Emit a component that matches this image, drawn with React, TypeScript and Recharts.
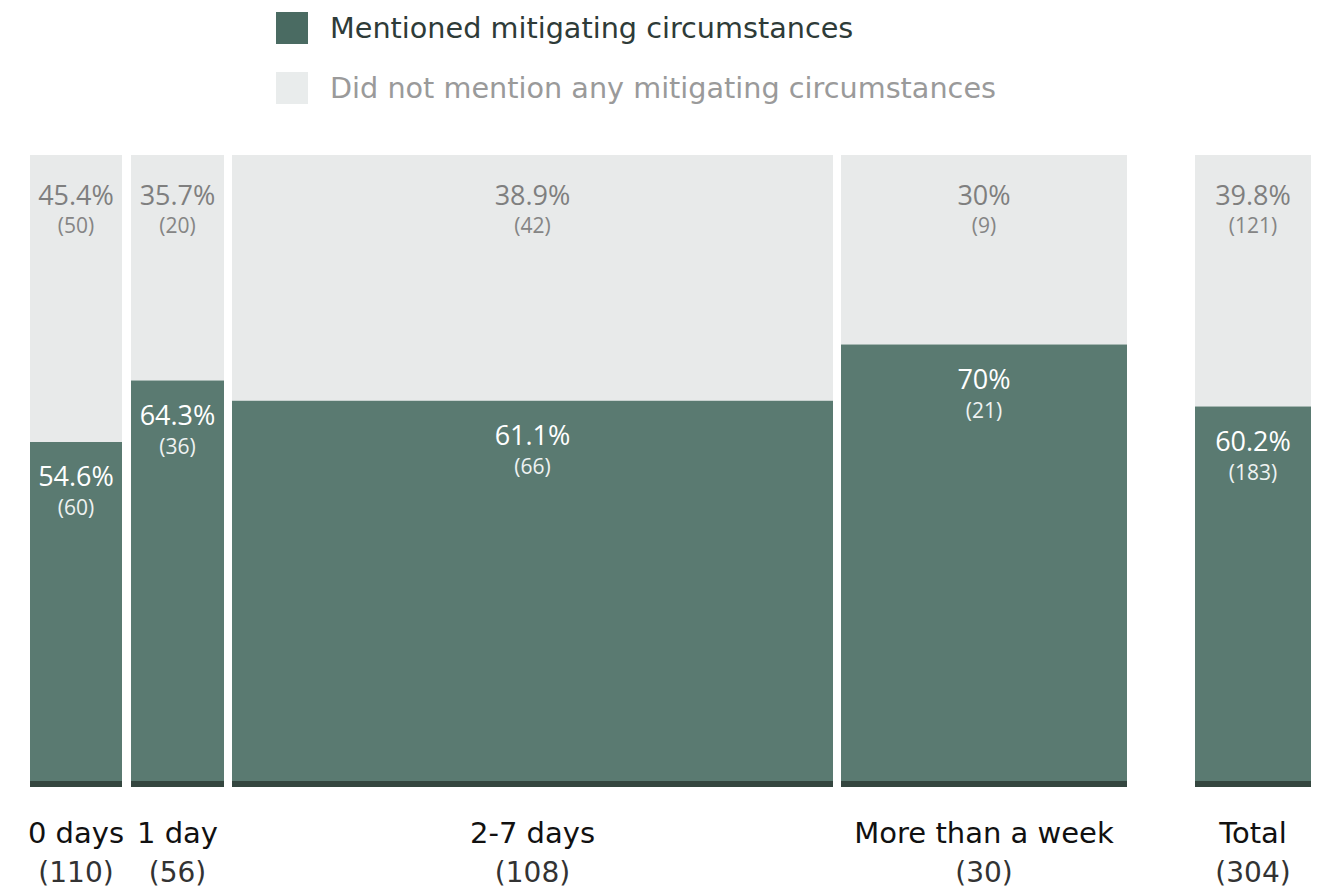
import React from "react";
import { ComposedChart, XAxis, YAxis, ReferenceArea, Line } from "recharts";

const categories = ["0 days", "1 day", "2-7 days", "More than a week", "Total"];
const counts = [110, 56, 108, 30, 304];
const mentionedPct = [54.6, 64.3, 61.1, 70, 60.2];
const mentionedCount = [60, 36, 66, 21, 183];
const notMentionedPct = [45.4, 35.7, 38.9, 30, 39.8];
const notMentionedCount = [50, 20, 42, 9, 121];

// mekko column layout (x-axis units)
const columnWidths = [92, 93, 601, 286, 116];
const columnGaps = [0, 9, 8, 8, 68];

const DARK = "#5a7a71";
const DARK_BASE = "#34463f";
const LIGHT = "#e8eaea";
const LEGEND_DARK = "#4a6b62";

const starts: number[] = [];
{
  let acc = 0;
  columnWidths.forEach((w, i) => {
    acc += columnGaps[i];
    starts.push(acc);
    acc += w;
  });
}
const ends = starts.map((s, i) => s + columnWidths[i]);
const centers = starts.map((s, i) => s + columnWidths[i] / 2);
const xMax = ends[ends.length - 1];

const rows = categories.map((c, i) => ({
  category: c,
  center: centers[i],
  mentioned: mentionedPct[i],
}));

const LABEL_FONT = "'Open Sans', 'Noto Sans', sans-serif";
const AXIS_FONT = "'DejaVu Sans', sans-serif";

const makeLabel = (pct: number, cnt: number, dark: boolean) => (props: any) => {
  const vb = props.viewBox || {};
  const cx = vb.x + vb.width / 2;
  const top = vb.y;
  const o1 = dark ? 34 : 39;
  const o2 = dark ? 65 : 70;
  return (
    <g>
      <text
        x={cx}
        y={top + o1}
        textAnchor="middle"
        dominantBaseline="central"
        fontFamily={LABEL_FONT}
        fontSize={27}
        fill={dark ? "#ffffff" : "#7f7f7f"}
      >
        {pct}%
      </text>
      <text
        x={cx}
        y={top + o2}
        textAnchor="middle"
        dominantBaseline="central"
        fontFamily={LABEL_FONT}
        fontSize={21}
        fill={dark ? "#eef2f1" : "#858585"}
      >
        ({cnt})
      </text>
    </g>
  );
};

const AxisTick = (props: any) => {
  const { x, y, payload } = props;
  const i = centers.findIndex((c) => Math.abs(c - payload.value) < 0.01);
  if (i < 0) return null;
  return (
    <g>
      <text
        x={x}
        y={y + 38}
        textAnchor="middle"
        dominantBaseline="central"
        fontFamily={AXIS_FONT}
        fontSize={29}
        fill="#111111"
      >
        {categories[i]}
      </text>
      <text
        x={x}
        y={y + 77}
        textAnchor="middle"
        dominantBaseline="central"
        fontFamily={AXIS_FONT}
        fontSize={28}
        fill="#333333"
      >
        ({counts[i]})
      </text>
    </g>
  );
};

export default function App() {
  return (
    <div
      style={{
        position: "absolute",
        left: 0,
        top: 0,
        width: 1332,
        height: 891,
        background: "#ffffff",
      }}
    >
      <div
        style={{
          position: "absolute",
          left: 276,
          top: 12,
          fontFamily: AXIS_FONT,
          fontSize: 28.7,
        }}
      >
        <div style={{ display: "flex", alignItems: "center", height: 32 }}>
          <div style={{ width: 32, height: 32, background: LEGEND_DARK }} />
          <span style={{ marginLeft: 22, color: "#2e3b38", whiteSpace: "nowrap" }}>
            Mentioned mitigating circumstances
          </span>
        </div>
        <div style={{ display: "flex", alignItems: "center", height: 32, marginTop: 28 }}>
          <div style={{ width: 32, height: 32, background: "#e9ecec" }} />
          <span style={{ marginLeft: 22, color: "#9a9a9a", whiteSpace: "nowrap" }}>
            Did not mention any mitigating circumstances
          </span>
        </div>
      </div>
      <div style={{ position: "absolute", left: 0, top: 0 }}>
        <ComposedChart
          width={1332}
          height={891}
          data={rows}
          margin={{ top: 155, right: 21, bottom: 4, left: 30 }}
        >
          <XAxis
            dataKey="center"
            type="number"
            domain={[0, xMax]}
            ticks={centers}
            interval={0}
            tick={<AxisTick />}
            tickLine={false}
            axisLine={false}
            height={100}
            allowDataOverflow
          />
          <YAxis type="number" domain={[0, 100]} hide width={0} allowDataOverflow />
          {categories.map((c, i) => (
            <ReferenceArea
              key={"l" + c}
              x1={starts[i]}
              x2={ends[i]}
              y1={mentionedPct[i]}
              y2={100}
              fill={LIGHT}
              fillOpacity={1}
              stroke="none"
              label={makeLabel(notMentionedPct[i], notMentionedCount[i], false)}
            />
          ))}
          {categories.map((c, i) => (
            <ReferenceArea
              key={"d" + c}
              x1={starts[i]}
              x2={ends[i]}
              y1={0}
              y2={mentionedPct[i]}
              fill={DARK}
              fillOpacity={1}
              stroke="none"
              label={makeLabel(mentionedPct[i], mentionedCount[i], true)}
            />
          ))}
          {categories.map((c, i) => (
            <ReferenceArea
              key={"b" + c}
              x1={starts[i]}
              x2={ends[i]}
              y1={0}
              y2={0.95}
              fill={DARK_BASE}
              fillOpacity={1}
              stroke="none"
            />
          ))}
          <Line
            dataKey="mentioned"
            stroke="none"
            dot={false}
            activeDot={false}
            isAnimationActive={false}
          />
        </ComposedChart>
      </div>
    </div>
  );
}
